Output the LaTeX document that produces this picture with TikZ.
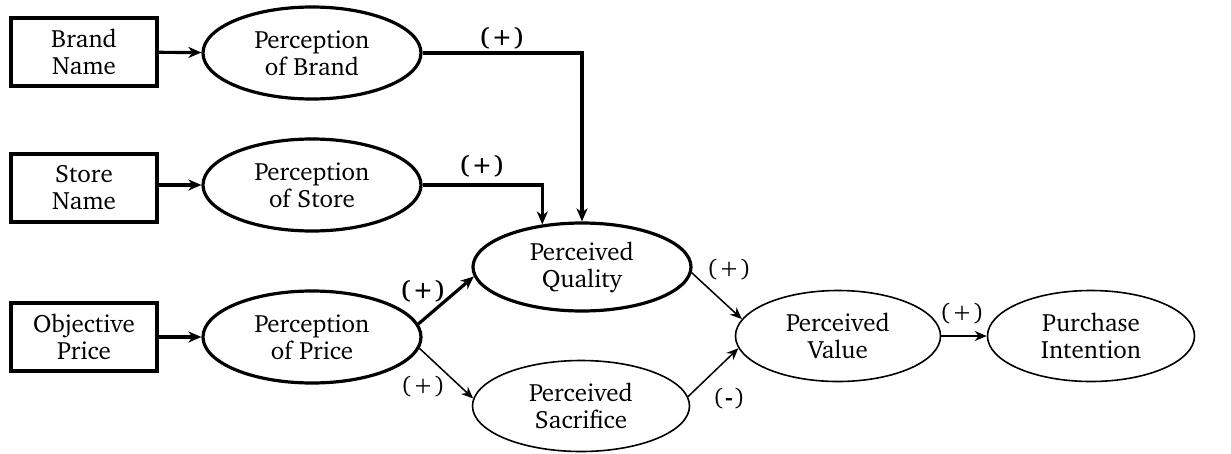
\documentclass[tikz,border=0pt]{standalone}
\usepackage[T1]{fontenc}
\renewcommand{\rmdefault}{bch}
\usetikzlibrary{arrows.meta,shapes.geometric}
\begin{document}
\begin{tikzpicture}[x=1pt,y=-1pt,
  txt/.style={align=center,font=\fontsize{25}{27}\selectfont,inner sep=0pt},
  srcbox/.style={txt,draw,line width=3.5pt,minimum width=146pt,minimum height=68pt},
  boldell/.style={txt,draw,ellipse,line width=3.2pt,minimum width=216pt,minimum height=90pt},
  thinell/.style={txt,draw,ellipse,line width=1.6pt,minimum width=205pt,minimum height=91pt},
  heavy/.style={line width=3.2pt,-{Stealth[length=13pt,width=11pt,inset=4pt]}},
  light/.style={line width=1.5pt,-{Stealth[length=12pt,width=10pt,inset=4pt]}},
  boldlbl/.style={font=\fontsize{25}{27}\selectfont\bfseries,inner sep=1pt},
  lbl/.style={font=\fontsize{24}{26}\selectfont,inner sep=1pt}]
\useasboundingbox (0,0) rectangle (1231,453);

% exogenous inputs
\node[srcbox] (brand) at (84,52)  {Brand\\Name};
\node[srcbox] (store) at (84,188) {Store\\Name};
\node[srcbox] (price) at (84,337) {Objective\\Price};

% perceptions
\node[boldell,minimum width=218pt,minimum height=92pt] (pbrand) at (312,53)  {Perception\\of Brand};
\node[boldell,minimum width=218pt,minimum height=92pt] (pstore) at (312,185) {Perception\\of Store};
\node[boldell,minimum width=218pt,minimum height=92pt] (pprice) at (312,337) {Perception\\of Price};

% mediators and outcome
\node[boldell,minimum width=218pt,minimum height=88pt] (quality) at (582,267) {Perceived\\Quality};
\node[thinell,minimum width=217pt,minimum height=91pt] (sacrifice) at (581,406) {Perceived\\Sacrifice};
\node[thinell] (value) at (838,336) {Perceived\\Value};
\node[thinell,minimum width=207pt] (purchase) at (1091,336) {Purchase\\Intention};

% input arrows
\draw[heavy] (brand) -- (pbrand);
\draw[heavy] (store.east |- pstore) -- (pstore);
\draw[heavy] (price) -- (pprice);

% paths to quality
\draw[heavy] (pbrand.east) -| (quality.north);
\draw[heavy] (pstore.east) -| (quality.133);
\draw[heavy] (pprice.7) -- (quality.185);
\draw[light] (pprice.-6) -- (sacrifice.176);

% paths to value and intention
\draw[light] (quality.-3) -- (value.170);
\draw[light] (sacrifice.5) -- (value.187);
\draw[line width=2.2pt,-{Stealth[length=12pt,width=10pt,inset=4pt]}] (value) -- (purchase);

% sign labels
\node[boldlbl] (s1) at (502,38)  {(\kern1.5pt+\kern1.5pt)};
\node[boldlbl] (s2) at (482,166) {(\kern1.5pt+\kern1.5pt)};
\node[boldlbl] (s3) at (423,291) {(\kern1.5pt+\kern1.5pt)};
\node[lbl] (s4) at (423,387) {(\kern2pt+\kern2pt)};
\node[lbl] (s5) at (729,270) {(\kern2pt+\kern2pt)};
\node[lbl] (s6) at (729,399) {(\kern2pt\textbf{-}\kern2pt)};
\node[lbl] (s7) at (962,314) {(\kern2pt+\kern2pt)};
\end{tikzpicture}
\end{document}
